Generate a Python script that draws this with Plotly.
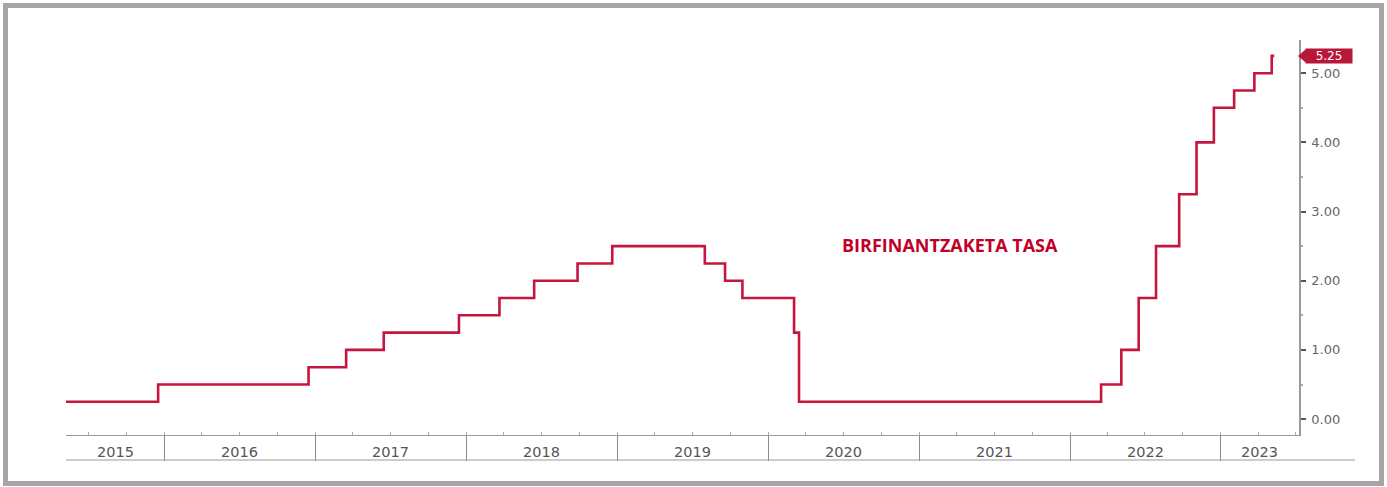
import plotly.graph_objects as go
from datetime import date

# ---- data (upper bound of the policy rate, step changes) ----
dates = ["2015-05-01", "2015-12-17", "2016-12-15", "2017-03-16", "2017-06-15",
         "2017-12-14", "2018-03-22", "2018-06-14", "2018-09-27", "2018-12-20",
         "2019-08-01", "2019-09-19", "2019-10-31", "2020-03-04", "2020-03-16",
         "2022-03-17", "2022-05-05", "2022-06-16", "2022-07-28", "2022-09-22",
         "2022-11-03", "2022-12-15", "2023-02-02", "2023-03-23", "2023-05-04",
         "2023-05-10"]
rates = [0.25, 0.50, 0.75, 1.00, 1.25,
         1.50, 1.75, 2.00, 2.25, 2.50,
         2.25, 2.00, 1.75, 1.25, 0.25,
         0.50, 1.00, 1.75, 2.50, 3.25,
         4.00, 4.50, 4.75, 5.00, 5.25,
         5.25]
years = [2015, 2016, 2017, 2018, 2019, 2020, 2021, 2022, 2023]
y_ticks = [0, 1, 2, 3, 4, 5]
title_text = "BIRFINANTZAKETA TASA"

# ---- layout constants ----
W, H = 1387, 487
ML, MR, MT, MB = 66, 88, 40, 52
PW, PH = W - ML - MR, H - MT - MB
x_range = ["2015-05-08", "2023-07-09"]
y_range = [-0.23, 5.48]
RED = "#C4163E"
GREY = "#8c8c8c"


def px_x(px):
    return (px - ML) / PW


def px_y(py):
    return (H - MB - py) / PH


fig = go.Figure()
fig.add_trace(go.Scatter(
    x=dates, y=rates, mode="lines", line=dict(color=RED, width=2.6, shape="hv"),
    hoverinfo="x+y", showlegend=False))

# year labels centred on the visible part of each year
r0 = date.fromisoformat(x_range[0])
r1 = date.fromisoformat(x_range[1])
annotations = []
for yr in years:
    a = max(date(yr, 1, 1), r0)
    b = min(date(yr + 1, 1, 1), r1)
    mid = a + (b - a) / 2
    annotations.append(dict(
        x=mid.isoformat(), xref="x", y=px_y(452), yref="paper", text=str(yr),
        showarrow=False, yanchor="middle", xanchor="center",
        font=dict(family="DejaVu Sans", size=14.5, color="#555555")))

# title annotation
annotations.append(dict(
    x=px_x(950), xref="paper", y=px_y(245), yref="paper", text="<b>%s</b>" % title_text,
    showarrow=False, xanchor="center", yanchor="middle",
    font=dict(family="Open Sans", size=18, color="#C00027")))

# last value tag
last = rates[-1]
annotations.append(dict(
    x=px_x(1305), xref="paper", y=last, yref="y", text="%.2f" % last,
    showarrow=False, xanchor="left", yanchor="middle", bgcolor="#B8173A",
    width=44, height=12, borderpad=1,
    font=dict(family="DejaVu Sans", size=12, color="white")))

shapes = [
    # pointer of the last value tag
    dict(type="path", xref="paper", yref="y",
         path="M %f,%f L %f,%f L %f,%f Z" % (px_x(1298), last, px_x(1306), last + 0.1,
                                             px_x(1306), last - 0.1),
         fillcolor="#B8173A", line=dict(width=0)),
    # bottom line of the year row
    dict(type="line", xref="paper", yref="paper", x0=0, x1=px_x(1355),
         y0=px_y(460), y1=px_y(460), line=dict(color="#9a9a9a", width=1)),
    # outer frame
    dict(type="rect", xref="paper", yref="paper", x0=px_x(5.5), x1=px_x(1381.5),
         y0=px_y(483.5), y1=px_y(5.5), line=dict(color="#a6a6a6", width=5),
         fillcolor="rgba(0,0,0,0)"),
]

fig.update_layout(
    width=W, height=H, margin=dict(l=ML, r=MR, t=MT, b=MB),
    paper_bgcolor="white", plot_bgcolor="white",
    annotations=annotations, shapes=shapes, showlegend=False,
    xaxis=dict(
        type="date", range=x_range, showgrid=False, zeroline=False,
        tickmode="array", tickvals=["%d-01-01" % y for y in years[1:]],
        showticklabels=False, ticks="outside", ticklen=25, tickwidth=1,
        tickcolor=GREY, showline=True, linecolor="#9a9a9a", linewidth=1,
        minor=dict(dtick="M3", tick0="2015-01-01", ticks="inside", ticklen=3,
                   tickcolor="#aaaaaa", showgrid=False),
        fixedrange=True),
    yaxis=dict(
        side="right", range=y_range, showgrid=False, zeroline=False,
        tickmode="array", tickvals=y_ticks, tickformat=".2f",
        ticks="outside", ticklen=5, tickwidth=1.5, tickcolor="#555555",
        ticklabelstandoff=3,
        tickfont=dict(family="DejaVu Sans", size=13, color="#666666"),
        showline=True, linecolor="#9a9a9a", linewidth=1.5,
        minor=dict(dtick=0.5, tick0=0, ticks="outside", ticklen=2,
                   tickcolor="#aaaaaa", showgrid=False),
        fixedrange=True),
)

fig.write_html("out.html")
